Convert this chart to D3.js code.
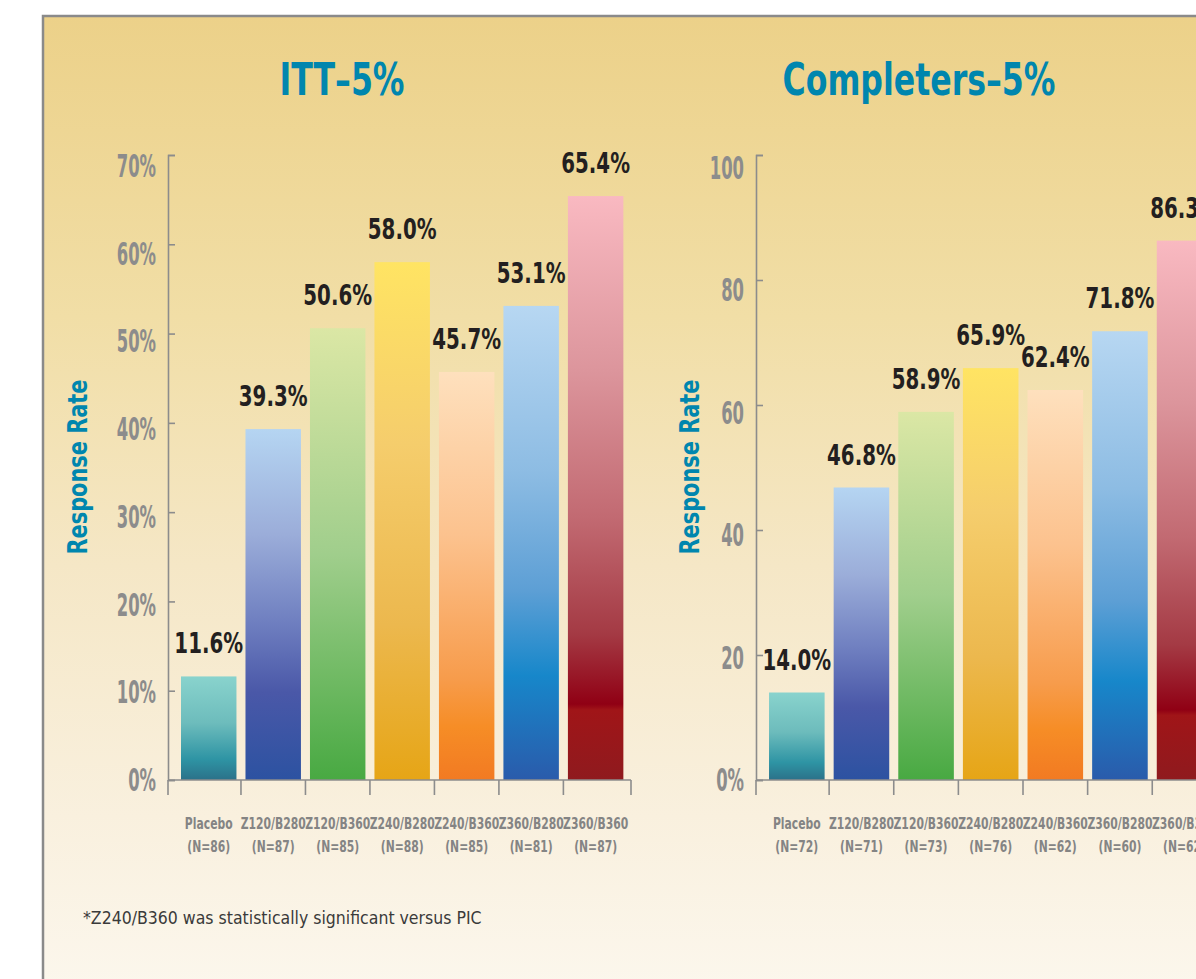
<!DOCTYPE html>
<html>
<head>
<meta charset="utf-8">
<script src="https://cdn.jsdelivr.net/npm/d3@7"></script>
<style>
  body { margin: 0; background: #fff; overflow: hidden; }
  text { font-family: "Liberation Sans Narrow", "Arial Narrow", "DejaVu Sans Condensed", sans-serif; }
</style>
</head>
<body>
<script>
// categories and values
var categories = ["Placebo", "Z120/B280", "Z120/B360", "Z240/B280", "Z240/B360", "Z360/B280", "Z360/B360"];
var ittN = [86, 87, 85, 88, 85, 81, 87];
var ittRate = [11.6, 39.3, 50.6, 58.0, 45.7, 53.1, 65.4];
var completersN = [72, 71, 73, 76, 62, 60, 62];
var completersRate = [14.0, 46.8, 58.9, 65.9, 62.4, 71.8, 86.3];
var ittTicks = [0, 10, 20, 30, 40, 50, 60, 70];
var ittTickLabels = ["0%", "10%", "20%", "30%", "40%", "50%", "60%", "70%"];
var completersTicks = [0, 20, 40, 60, 80, 100];
var completersTickLabels = ["0%", "20", "40", "60", "80", "100"];

// gradient colours for each bar (top -> bottom)
var barColors = [
    [[0, "#89d3cd"], [0.45, "#6dbcbc"], [0.8, "#2e94a4"], [1, "#2b7189"]],
    [[0, "#b5d5f2"], [0.3, "#9badd9"], [0.55, "#6f7fc0"], [0.75, "#4a58a8"], [1, "#2c52a1"]],
    [[0, "#dbe7a5"], [0.5, "#a0ce8c"], [1, "#48a942"]],
    [[0, "#ffe463"], [0.35, "#f5cd6c"], [0.7, "#ecb84e"], [1, "#e6a516"]],
    [[0, "#fee0bd"], [0.4, "#fcc28e"], [0.75, "#f79c4c"], [0.87, "#f68d26"], [1, "#f27a22"]],
    [[0, "#b7d7f2"], [0.35, "#8dbce3"], [0.6, "#5d9fd5"], [0.78, "#1787ca"], [1, "#2a5bab"]],
    [[0, "#f9b9c1"], [0.3, "#dc959c"], [0.55, "#c26a72"], [0.75, "#a43a44"], [0.87, "#900014"], [0.88, "#a01518"], [1, "#8f1a1e"]]
];

var axisColor = "#8c8c8c";
var labelGray = "#848484";
var titleBlue = "#0086ae";
var valueColor = "#231f20";

var svg = d3.select("body").append("svg")
    .attr("width", 1196)
    .attr("height", 979);

var defs = svg.append("defs");

var bg = defs.append("linearGradient").attr("id", "bgGrad")
    .attr("x1", 0).attr("y1", 0).attr("x2", 0).attr("y2", 1);
[[0, "#ecd189"], [0.3, "#f1dea6"], [0.55, "#f5e7c6"], [0.8, "#f9f0de"], [1, "#fcf8ef"]].forEach(function(s) {
    bg.append("stop").attr("offset", s[0]).attr("stop-color", s[1]);
});

barColors.forEach(function(stops, i) {
    var g = defs.append("linearGradient").attr("id", "bar" + i)
        .attr("x1", 0).attr("y1", 0).attr("x2", 0).attr("y2", 1);
    stops.forEach(function(s) {
        g.append("stop").attr("offset", s[0]).attr("stop-color", s[1]);
    });
});

// background panel with grey frame
svg.append("rect")
    .attr("x", 43).attr("y", 16)
    .attr("width", 1300).attr("height", 1000)
    .style("fill", "url(#bgGrad)")
    .style("stroke", "#8a8a8a")
    .style("stroke-width", 2.5);

// only a wide condensed font is installed, so squeeze text horizontally
function squeeze(x, y, s) {
    return "translate(" + x + "," + y + ") scale(" + s + ",1)";
}

function drawPanel(opt) {
    var g = svg.append("g");

    var x = d3.scaleBand()
        .domain(categories)
        .range([opt.left, opt.right])
        .paddingInner(0.14)
        .paddingOuter(0.16)
        .align(0.63);

    var y = d3.scaleLinear().domain([0, opt.max]).range([780, opt.top]);
    // the tick labels sit on a slightly tighter scale than the ticks
    var yLab = d3.scaleLinear().domain([0, opt.max]).range([780, opt.labelTop]);

    // title
    g.append("text")
        .attr("transform", squeeze(opt.titleX, 95, 0.78))
        .attr("text-anchor", "middle")
        .style("font-size", "45px").style("font-weight", "bold")
        .style("fill", titleBlue)
        .text(opt.title);

    // y axis title
    g.append("text")
        .attr("transform", "translate(" + opt.yTitleX + ",467) rotate(-90) scale(0.86,1)")
        .attr("text-anchor", "middle")
        .style("font-size", "27px").style("font-weight", "bold")
        .style("fill", titleBlue)
        .text("Response Rate");

    // bars
    g.selectAll(".bar")
        .data(opt.rates)
        .enter().append("rect")
        .attr("x", function(d, i) { return x(categories[i]); })
        .attr("y", function(d) { return y(d); })
        .attr("width", x.bandwidth())
        .attr("height", function(d) { return y(0) - y(d); })
        .style("fill", function(d, i) { return "url(#bar" + i + ")"; });

    // value labels
    g.selectAll(".val")
        .data(opt.rates)
        .enter().append("text")
        .attr("transform", function(d, i) {
            return squeeze(x(categories[i]) + x.bandwidth() / 2, y(d) - 23, 0.76);
        })
        .attr("text-anchor", "middle")
        .style("font-size", "29px").style("font-weight", "bold")
        .style("fill", valueColor)
        .text(function(d) { return d.toFixed(1) + "%"; });

    // y axis, ticks pointing inward
    var yAxis = g.append("g")
        .attr("transform", "translate(" + opt.left + ",0)")
        .call(d3.axisLeft(y).tickValues(opt.ticks).tickSizeInner(-7).tickSizeOuter(-7).tickFormat(""));
    yAxis.selectAll("path, line").style("stroke", axisColor).style("stroke-width", 1.6);

    g.selectAll(".ylab")
        .data(opt.ticks)
        .enter().append("text")
        .attr("transform", function(d) { return squeeze(opt.left - 12, yLab(d) + 11, 0.57); })
        .attr("text-anchor", "end")
        .style("font-size", "32px").style("font-weight", "bold")
        .style("fill", axisColor)
        .text(function(d, i) { return opt.tickLabels[i]; });

    // x axis line with ticks at band boundaries
    g.append("line")
        .attr("x1", opt.left).attr("x2", opt.right)
        .attr("y1", 780).attr("y2", 780)
        .style("stroke", axisColor).style("stroke-width", 1.6);

    var bounds = [opt.left];
    for (var i = 1; i < categories.length; i++) {
        bounds.push((x(categories[i - 1]) + x.bandwidth() + x(categories[i])) / 2);
    }
    bounds.push(opt.right);
    g.selectAll(".xtick")
        .data(bounds)
        .enter().append("line")
        .attr("x1", function(d) { return d; }).attr("x2", function(d) { return d; })
        .attr("y1", 780).attr("y2", 795)
        .style("stroke", axisColor).style("stroke-width", 1.6);

    // category labels
    var cat = g.selectAll(".cat")
        .data(categories)
        .enter().append("text")
        .attr("transform", function(d) { return squeeze(x(d) + x.bandwidth() / 2, 829, 0.8); })
        .attr("text-anchor", "middle")
        .style("font-size", "15px").style("font-weight", "bold")
        .style("fill", labelGray);
    cat.append("tspan")
        .attr("x", 0).attr("y", 0)
        .text(function(d) { return d; });
    cat.append("tspan")
        .attr("x", 0).attr("y", 23)
        .text(function(d, i) { return "(N=" + opt.ns[i] + ")"; });
}

drawPanel({
    title: "ITT\u20135%", titleX: 342, yTitleX: 87,
    left: 168, right: 631, top: 155, labelTop: 166, max: 70,
    rates: ittRate, ns: ittN, ticks: ittTicks, tickLabels: ittTickLabels
});

drawPanel({
    title: "Completers\u20135%", titleX: 919, yTitleX: 699,
    left: 756, right: 1220, top: 155, labelTop: 168, max: 100,
    rates: completersRate, ns: completersN, ticks: completersTicks, tickLabels: completersTickLabels
});

// footnote
svg.append("text")
    .attr("x", 83).attr("y", 924)
    .style("font-size", "17.5px")
    .style("fill", "#3a3a3a")
    .text("*Z240/B360 was statistically significant versus PIC");
</script>
</body>
</html>
